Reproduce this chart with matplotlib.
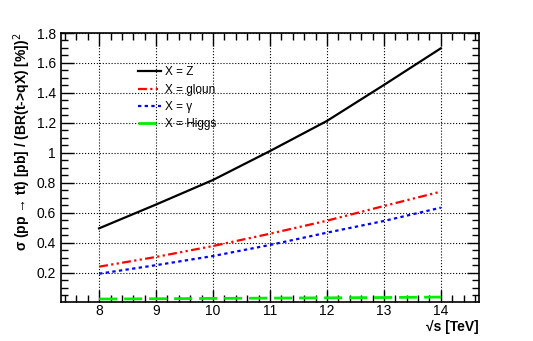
import numpy as np
import matplotlib
matplotlib.use("Agg")
import matplotlib.pyplot as plt
from matplotlib.ticker import MultipleLocator

plt.rcParams['font.family'] = ['Liberation Sans', 'DejaVu Sans']

# data
energies = [8, 9, 10, 11, 12, 13, 14]
xsec_Z = [0.496, 0.655, 0.819, 1.012, 1.213, 1.453, 1.698]
xsec_gluon = [0.240, 0.305, 0.378, 0.460, 0.547, 0.645, 0.741]
xsec_gamma = [0.193, 0.250, 0.311, 0.385, 0.467, 0.545, 0.634]
xsec_higgs = [0.024, 0.026, 0.028, 0.030, 0.032, 0.034, 0.037]

fig = plt.figure(figsize=(5.33, 3.41), dpi=100)
ax = fig.add_axes([0.1144, 0.1152, 0.7843, 0.788])

ax.plot(energies, xsec_Z, color="black", lw=1.6, label="X = Z")
ax.plot(energies, xsec_gluon, color="red", lw=1.6, dashes=(4, 1.5, 1, 1.5, 1, 1.5), label="X = gloun")
ax.plot(energies, xsec_gamma, color="blue", lw=1.6, dashes=(1.5, 1.5), label="X = \u03b3")
ax.plot(energies, xsec_higgs, color="#00ee00", lw=2.0, dashes=(6.5, 2.5), label="X = Higgs")

ax.set_xlim(7.33, 14.67)
ax.set_ylim(0.006, 1.8)
ax.xaxis.set_minor_locator(MultipleLocator(0.2))
ax.yaxis.set_minor_locator(MultipleLocator(0.05))
ax.set_xticks([8, 9, 10, 11, 12, 13, 14])
ax.set_yticks([0.2, 0.4, 0.6, 0.8, 1.0, 1.2, 1.4, 1.6, 1.8])
ax.set_yticklabels(["0.2", "0.4", "0.6", "0.8", "1", "1.2", "1.4", "1.6", "1.8"])

ax.tick_params(which="both", direction="in", top=True, right=True, labelsize=10, width=1)
ax.tick_params(which="major", length=9)
ax.tick_params(which="minor", length=5)
ax.tick_params(axis="x", pad=2)
ax.grid(True, which="major", ls=":", color="black", lw=0.8)
for s in ax.spines.values():
    s.set_linewidth(1.2)

ax.set_ylabel("\u03c3 (pp \u2192 tt) [pb] / (BR(t->qX) [%])$^2$", fontsize=10, fontweight="bold")
ax.yaxis.label.set_horizontalalignment("right")
ax.yaxis.set_label_coords(-0.067, 1.0)
ax.set_xlabel("\u221as [TeV]", fontsize=10, fontweight="bold", ha="right")
ax.xaxis.set_label_coords(1.0, -0.068)

ax.legend(loc="upper left", bbox_to_anchor=(0.158, 0.915), frameon=False, fontsize=8.5,
          handlelength=2.0, labelspacing=0.45, handletextpad=0.3)

fig.savefig("out.png", dpi=100)
